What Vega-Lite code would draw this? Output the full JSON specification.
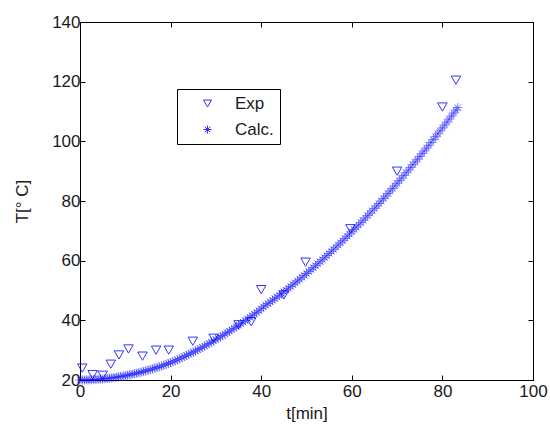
{
  "$schema": "https://vega.github.io/schema/vega-lite/v6.json",
  "width": 453,
  "height": 358,
  "autosize": {"type": "none"},
  "padding": {"left": 80, "top": 22, "right": 17, "bottom": 48},
  "background": "white",
  "config": {
    "font": "Liberation Sans",
    "view": {"stroke": "black", "strokeWidth": 1},
    "axis": {
      "grid": false,
      "domainColor": "black",
      "tickColor": "black",
      "labelColor": "#1a1a1a",
      "titleColor": "#1a1a1a",
      "labelFont": "Liberation Sans",
      "titleFont": "Liberation Sans",
      "labelFontSize": 17,
      "titleFontSize": 17,
      "titleFontWeight": "normal",
      "tickSize": -5,
      "labelFlush": false,
      "labelOverlap": false
    }
  },
  "datasets": {
    "exp": [
      {"t": 0.5, "T": 24.0, "series": "Exp"},
      {"t": 2.8, "T": 21.8, "series": "Exp"},
      {"t": 5.0, "T": 21.6, "series": "Exp"},
      {"t": 6.8, "T": 25.3, "series": "Exp"},
      {"t": 8.6, "T": 28.4, "series": "Exp"},
      {"t": 10.7, "T": 30.4, "series": "Exp"},
      {"t": 13.8, "T": 28.0, "series": "Exp"},
      {"t": 16.8, "T": 30.0, "series": "Exp"},
      {"t": 19.6, "T": 30.0, "series": "Exp"},
      {"t": 24.9, "T": 33.0, "series": "Exp"},
      {"t": 29.5, "T": 34.0, "series": "Exp"},
      {"t": 35.0, "T": 38.5, "series": "Exp"},
      {"t": 37.8, "T": 39.5, "series": "Exp"},
      {"t": 40.0, "T": 50.3, "series": "Exp"},
      {"t": 45.0, "T": 48.5, "series": "Exp"},
      {"t": 49.8, "T": 59.5, "series": "Exp"},
      {"t": 59.7, "T": 70.7, "series": "Exp"},
      {"t": 70.0, "T": 90.0, "series": "Exp"},
      {"t": 80.0, "T": 111.5, "series": "Exp"},
      {"t": 83.0, "T": 120.5, "series": "Exp"}
    ],
    "calc": [
      {"t": 0, "T": 20.00, "series": "Calc."},
      {"t": 0.5, "T": 20.01, "series": "Calc."},
      {"t": 1, "T": 20.02, "series": "Calc."},
      {"t": 1.5, "T": 20.04, "series": "Calc."},
      {"t": 2, "T": 20.06, "series": "Calc."},
      {"t": 2.5, "T": 20.09, "series": "Calc."},
      {"t": 3, "T": 20.13, "series": "Calc."},
      {"t": 3.5, "T": 20.18, "series": "Calc."},
      {"t": 4, "T": 20.23, "series": "Calc."},
      {"t": 4.5, "T": 20.29, "series": "Calc."},
      {"t": 5, "T": 20.36, "series": "Calc."},
      {"t": 5.5, "T": 20.44, "series": "Calc."},
      {"t": 6, "T": 20.52, "series": "Calc."},
      {"t": 6.5, "T": 20.61, "series": "Calc."},
      {"t": 7, "T": 20.71, "series": "Calc."},
      {"t": 7.5, "T": 20.82, "series": "Calc."},
      {"t": 8, "T": 20.93, "series": "Calc."},
      {"t": 8.5, "T": 21.05, "series": "Calc."},
      {"t": 9, "T": 21.17, "series": "Calc."},
      {"t": 9.5, "T": 21.31, "series": "Calc."},
      {"t": 10, "T": 21.45, "series": "Calc."},
      {"t": 10.5, "T": 21.60, "series": "Calc."},
      {"t": 11, "T": 21.75, "series": "Calc."},
      {"t": 11.5, "T": 21.92, "series": "Calc."},
      {"t": 12, "T": 22.09, "series": "Calc."},
      {"t": 12.5, "T": 22.27, "series": "Calc."},
      {"t": 13, "T": 22.45, "series": "Calc."},
      {"t": 13.5, "T": 22.64, "series": "Calc."},
      {"t": 14, "T": 22.84, "series": "Calc."},
      {"t": 14.5, "T": 23.05, "series": "Calc."},
      {"t": 15, "T": 23.26, "series": "Calc."},
      {"t": 15.5, "T": 23.48, "series": "Calc."},
      {"t": 16, "T": 23.71, "series": "Calc."},
      {"t": 16.5, "T": 23.95, "series": "Calc."},
      {"t": 17, "T": 24.19, "series": "Calc."},
      {"t": 17.5, "T": 24.44, "series": "Calc."},
      {"t": 18, "T": 24.70, "series": "Calc."},
      {"t": 18.5, "T": 24.96, "series": "Calc."},
      {"t": 19, "T": 25.23, "series": "Calc."},
      {"t": 19.5, "T": 25.51, "series": "Calc."},
      {"t": 20, "T": 25.80, "series": "Calc."},
      {"t": 20.5, "T": 26.13, "series": "Calc."},
      {"t": 21, "T": 26.46, "series": "Calc."},
      {"t": 21.5, "T": 26.80, "series": "Calc."},
      {"t": 22, "T": 27.15, "series": "Calc."},
      {"t": 22.5, "T": 27.50, "series": "Calc."},
      {"t": 23, "T": 27.86, "series": "Calc."},
      {"t": 23.5, "T": 28.23, "series": "Calc."},
      {"t": 24, "T": 28.60, "series": "Calc."},
      {"t": 24.5, "T": 28.98, "series": "Calc."},
      {"t": 25, "T": 29.36, "series": "Calc."},
      {"t": 25.5, "T": 29.75, "series": "Calc."},
      {"t": 26, "T": 30.15, "series": "Calc."},
      {"t": 26.5, "T": 30.55, "series": "Calc."},
      {"t": 27, "T": 30.96, "series": "Calc."},
      {"t": 27.5, "T": 31.38, "series": "Calc."},
      {"t": 28, "T": 31.80, "series": "Calc."},
      {"t": 28.5, "T": 32.23, "series": "Calc."},
      {"t": 29, "T": 32.66, "series": "Calc."},
      {"t": 29.5, "T": 33.10, "series": "Calc."},
      {"t": 30, "T": 33.55, "series": "Calc."},
      {"t": 30.5, "T": 34.00, "series": "Calc."},
      {"t": 31, "T": 34.46, "series": "Calc."},
      {"t": 31.5, "T": 34.93, "series": "Calc."},
      {"t": 32, "T": 35.40, "series": "Calc."},
      {"t": 32.5, "T": 35.88, "series": "Calc."},
      {"t": 33, "T": 36.36, "series": "Calc."},
      {"t": 33.5, "T": 36.85, "series": "Calc."},
      {"t": 34, "T": 37.35, "series": "Calc."},
      {"t": 34.5, "T": 37.85, "series": "Calc."},
      {"t": 35, "T": 38.36, "series": "Calc."},
      {"t": 35.5, "T": 38.88, "series": "Calc."},
      {"t": 36, "T": 39.40, "series": "Calc."},
      {"t": 36.5, "T": 39.93, "series": "Calc."},
      {"t": 37, "T": 40.46, "series": "Calc."},
      {"t": 37.5, "T": 41.00, "series": "Calc."},
      {"t": 38, "T": 41.55, "series": "Calc."},
      {"t": 38.5, "T": 42.10, "series": "Calc."},
      {"t": 39, "T": 42.66, "series": "Calc."},
      {"t": 39.5, "T": 43.25, "series": "Calc."},
      {"t": 40, "T": 43.90, "series": "Calc."},
      {"t": 40.5, "T": 44.50, "series": "Calc."},
      {"t": 41, "T": 45.07, "series": "Calc."},
      {"t": 41.5, "T": 45.61, "series": "Calc."},
      {"t": 42, "T": 46.16, "series": "Calc."},
      {"t": 42.5, "T": 46.71, "series": "Calc."},
      {"t": 43, "T": 47.27, "series": "Calc."},
      {"t": 43.5, "T": 47.84, "series": "Calc."},
      {"t": 44, "T": 48.41, "series": "Calc."},
      {"t": 44.5, "T": 48.99, "series": "Calc."},
      {"t": 45, "T": 49.57, "series": "Calc."},
      {"t": 45.5, "T": 50.16, "series": "Calc."},
      {"t": 46, "T": 50.75, "series": "Calc."},
      {"t": 46.5, "T": 51.35, "series": "Calc."},
      {"t": 47, "T": 51.95, "series": "Calc."},
      {"t": 47.5, "T": 52.56, "series": "Calc."},
      {"t": 48, "T": 53.18, "series": "Calc."},
      {"t": 48.5, "T": 53.80, "series": "Calc."},
      {"t": 49, "T": 54.43, "series": "Calc."},
      {"t": 49.5, "T": 55.06, "series": "Calc."},
      {"t": 50, "T": 55.70, "series": "Calc."},
      {"t": 50.5, "T": 56.34, "series": "Calc."},
      {"t": 51, "T": 56.99, "series": "Calc."},
      {"t": 51.5, "T": 57.65, "series": "Calc."},
      {"t": 52, "T": 58.31, "series": "Calc."},
      {"t": 52.5, "T": 58.98, "series": "Calc."},
      {"t": 53, "T": 59.65, "series": "Calc."},
      {"t": 53.5, "T": 60.33, "series": "Calc."},
      {"t": 54, "T": 61.02, "series": "Calc."},
      {"t": 54.5, "T": 61.71, "series": "Calc."},
      {"t": 55, "T": 62.41, "series": "Calc."},
      {"t": 55.5, "T": 63.11, "series": "Calc."},
      {"t": 56, "T": 63.81, "series": "Calc."},
      {"t": 56.5, "T": 64.53, "series": "Calc."},
      {"t": 57, "T": 65.25, "series": "Calc."},
      {"t": 57.5, "T": 65.97, "series": "Calc."},
      {"t": 58, "T": 66.70, "series": "Calc."},
      {"t": 58.5, "T": 67.44, "series": "Calc."},
      {"t": 59, "T": 68.18, "series": "Calc."},
      {"t": 59.5, "T": 68.93, "series": "Calc."},
      {"t": 60, "T": 69.68, "series": "Calc."},
      {"t": 60.5, "T": 70.44, "series": "Calc."},
      {"t": 61, "T": 71.20, "series": "Calc."},
      {"t": 61.5, "T": 71.97, "series": "Calc."},
      {"t": 62, "T": 72.75, "series": "Calc."},
      {"t": 62.5, "T": 73.53, "series": "Calc."},
      {"t": 63, "T": 74.32, "series": "Calc."},
      {"t": 63.5, "T": 75.11, "series": "Calc."},
      {"t": 64, "T": 75.91, "series": "Calc."},
      {"t": 64.5, "T": 76.72, "series": "Calc."},
      {"t": 65, "T": 77.53, "series": "Calc."},
      {"t": 65.5, "T": 78.34, "series": "Calc."},
      {"t": 66, "T": 79.16, "series": "Calc."},
      {"t": 66.5, "T": 79.99, "series": "Calc."},
      {"t": 67, "T": 80.82, "series": "Calc."},
      {"t": 67.5, "T": 81.66, "series": "Calc."},
      {"t": 68, "T": 82.50, "series": "Calc."},
      {"t": 68.5, "T": 83.36, "series": "Calc."},
      {"t": 69, "T": 84.22, "series": "Calc."},
      {"t": 69.5, "T": 85.08, "series": "Calc."},
      {"t": 70, "T": 85.94, "series": "Calc."},
      {"t": 70.5, "T": 86.81, "series": "Calc."},
      {"t": 71, "T": 87.69, "series": "Calc."},
      {"t": 71.5, "T": 88.58, "series": "Calc."},
      {"t": 72, "T": 89.47, "series": "Calc."},
      {"t": 72.5, "T": 90.36, "series": "Calc."},
      {"t": 73, "T": 91.26, "series": "Calc."},
      {"t": 73.5, "T": 92.17, "series": "Calc."},
      {"t": 74, "T": 93.09, "series": "Calc."},
      {"t": 74.5, "T": 94.01, "series": "Calc."},
      {"t": 75, "T": 94.93, "series": "Calc."},
      {"t": 75.5, "T": 95.86, "series": "Calc."},
      {"t": 76, "T": 96.79, "series": "Calc."},
      {"t": 76.5, "T": 97.73, "series": "Calc."},
      {"t": 77, "T": 98.68, "series": "Calc."},
      {"t": 77.5, "T": 99.63, "series": "Calc."},
      {"t": 78, "T": 100.59, "series": "Calc."},
      {"t": 78.5, "T": 101.56, "series": "Calc."},
      {"t": 79, "T": 102.53, "series": "Calc."},
      {"t": 79.5, "T": 103.50, "series": "Calc."},
      {"t": 80, "T": 104.48, "series": "Calc."},
      {"t": 80.5, "T": 105.47, "series": "Calc."},
      {"t": 81, "T": 106.46, "series": "Calc."},
      {"t": 81.5, "T": 107.46, "series": "Calc."},
      {"t": 82, "T": 108.46, "series": "Calc."},
      {"t": 82.5, "T": 109.47, "series": "Calc."},
      {"t": 83, "T": 110.48, "series": "Calc."},
      {"t": 83.4, "T": 111.30, "series": "Calc."}
    ]
  },
  "resolve": {"axis": {"x": "independent", "y": "independent"}},
  "layer": [
    {
      "data": {"name": "exp"},
      "mark": {"type": "point", "filled": false, "color": "#0000ff", "size": 90, "strokeWidth": 1, "opacity": 0.8},
      "encoding": {
        "x": {
          "field": "t", "type": "quantitative",
          "scale": {"domain": [0, 100], "nice": false, "zero": false},
          "axis": {"title": "t[min]", "values": [0, 20, 40, 60, 80, 100], "titlePadding": 6, "labelPadding": 8}
        },
        "y": {
          "field": "T", "type": "quantitative",
          "scale": {"domain": [20, 140], "nice": false, "zero": false},
          "axis": {"title": "T[° C]", "values": [20, 40, 60, 80, 100, 120, 140], "titlePadding": 20, "labelPadding": 5}
        },
        "shape": {
          "field": "series", "type": "nominal",
          "scale": {
            "domain": ["Exp", "Calc."],
            "range": ["triangle-down", "M0,-1L0,1M-1,0L1,0M-0.7,-0.7L0.7,0.7M-0.7,0.7L0.7,-0.7"]
          },
          "legend": {
            "title": null,
            "orient": "none",
            "legendX": 97,
            "legendY": 67,
            "fillColor": "white",
            "strokeColor": "black",
            "padding": 6,
            "symbolOffset": 16,
            "symbolSize": 64,
            "symbolType": "triangle-down",
            "symbolStrokeColor": "#0000ff",
            "symbolFillColor": "transparent",
            "symbolStrokeWidth": 1,
            "labelFontSize": 17,
            "labelFont": "Liberation Sans",
            "labelColor": "#1a1a1a",
            "labelOffset": 19,
            "rowPadding": 8
          }
        }
      }
    },
    {
      "data": {"name": "calc"},
      "mark": {"type": "point", "filled": false, "color": "#0000ff", "size": 85, "strokeWidth": 0.8, "opacity": 0.6},
      "encoding": {
        "x": {"field": "t", "type": "quantitative", "axis": null},
        "y": {"field": "T", "type": "quantitative", "axis": null},
        "shape": {"field": "series", "type": "nominal"}
      }
    },
    {
      "data": {"name": "exp"},
      "mark": {"type": "point", "opacity": 0},
      "encoding": {
        "x": {
          "field": "t", "type": "quantitative",
          "axis": {"orient": "top", "title": null, "labels": false, "values": [0, 20, 40, 60, 80, 100]}
        },
        "y": {
          "field": "T", "type": "quantitative",
          "axis": {"orient": "right", "title": null, "labels": false, "values": [20, 40, 60, 80, 100, 120, 140]}
        }
      }
    }
  ]
}
